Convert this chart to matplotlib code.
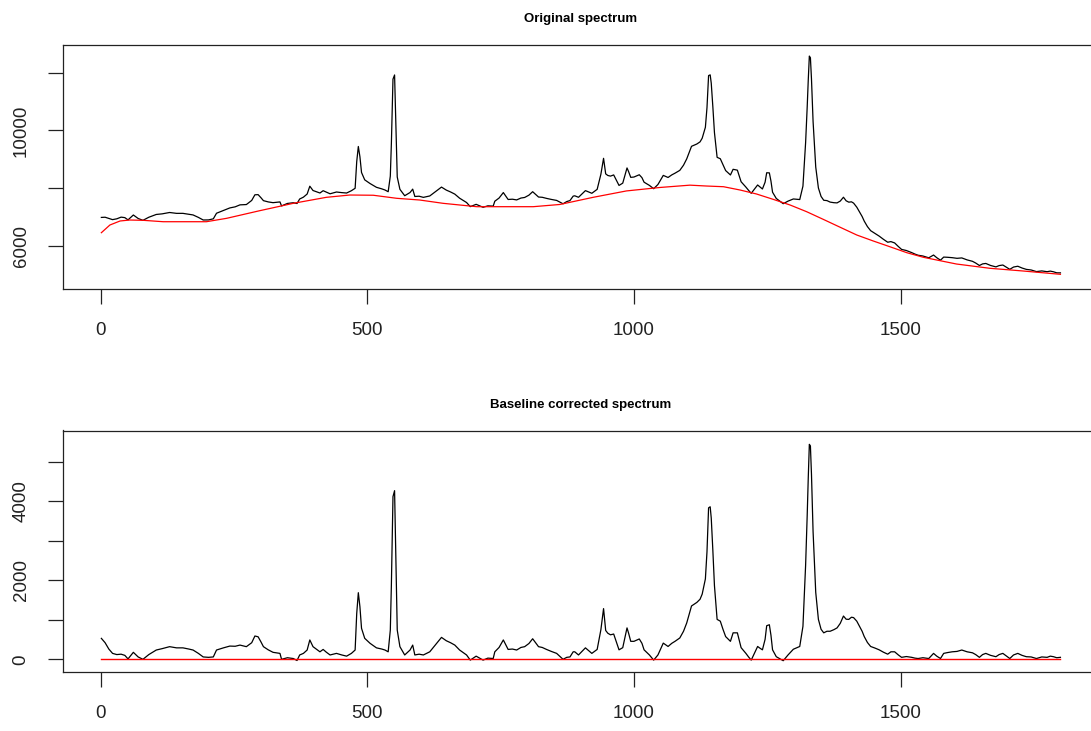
import numpy as np
import matplotlib
matplotlib.use("Agg")
import matplotlib.pyplot as plt

# ---- data ----
# baseline-corrected spectrum (index, intensity)
corr_x = [1, 8, 15, 22, 30, 38, 45, 51, 61, 70, 79, 90, 104, 115, 129, 142, 154, 165, 173, 183,
          192, 202, 211, 217, 230, 242, 252, 261, 273, 283, 289, 295, 300, 305, 314, 323, 336, 339,
          350, 361, 368, 373, 380, 387, 392, 398, 405, 411, 417, 423, 430, 442, 452, 461, 470, 477,
          480, 483, 486, 489, 495, 505, 517, 527, 533, 539, 543, 545, 548, 551, 553, 556, 561, 570,
          580, 585, 589, 597, 605, 617, 630, 639, 648, 656, 664, 673, 686, 693, 704, 717, 726, 736,
          739, 747, 755, 764, 772, 780, 788, 795, 803, 810, 821, 828, 836, 845, 855, 867, 874, 880,
          886, 889, 896, 909, 915, 921, 931, 938, 943, 947, 951, 956, 962, 968, 972, 979, 987, 990,
          994, 1000, 1005, 1010, 1015, 1019, 1029, 1037, 1045, 1055, 1064, 1071, 1077, 1086, 1093,
          1099, 1108, 1118, 1124, 1128, 1134, 1137, 1140, 1143, 1145, 1148, 1151, 1156, 1162, 1167,
          1172, 1181, 1186, 1194, 1201, 1210, 1215, 1220, 1226, 1232, 1236, 1241, 1246, 1249, 1254,
          1257, 1260, 1267, 1273, 1280, 1289, 1299, 1311, 1317, 1322, 1325, 1327, 1329, 1331, 1333,
          1336, 1341, 1346, 1351, 1356, 1362, 1368, 1375, 1381, 1387, 1393, 1398, 1403, 1408, 1412,
          1418, 1423, 1428, 1432, 1438, 1444, 1452, 1460, 1468, 1476, 1482, 1489, 1496, 1502, 1511,
          1521, 1527, 1533, 1542, 1553, 1562, 1568, 1575, 1581, 1588, 1597, 1606, 1615, 1625, 1635,
          1641, 1648, 1654, 1660, 1669, 1679, 1685, 1692, 1699, 1705, 1712, 1720, 1728, 1736, 1745,
          1755, 1765, 1775, 1781, 1787, 1793, 1800]
corr_y = [530, 420, 260, 150, 120, 130, 100, 10, 177, 60, 0, 120, 235, 270, 320, 290, 290, 260, 235, 150,
          60, 50, 60, 235, 290, 335, 330, 360, 320, 420, 590, 570, 450, 320, 240, 177, 150, 0,
          40, 20, -30, 110, 150, 235, 490, 320, 250, 190, 250, 180, 110, 150, 110, 80, 150, 235,
          1160, 1686, 1330, 785, 531, 405, 290, 260, 235, 190, 740, 1880, 4116, 4268, 2810, 740, 320, 110,
          235, 360, 110, 130, 110, 190, 405, 555, 470, 420, 360, 235, 110, -20, 80, -20, 30, 20,
          190, 300, 490, 250, 260, 235, 300, 320, 400, 520, 320, 300, 250, 200, 150, 0, 50, 60,
          190, 190, 110, 290, 220, 150, 250, 750, 1283, 730, 660, 620, 640, 405, 240, 295, 795, 660,
          455, 455, 485, 515, 405, 240, 110, -20, 110, 410, 325, 405, 455, 540, 710,
          920, 1350, 1440, 1520, 1650, 2034, 2718, 3833, 3860, 3574, 2758, 1866, 1010, 965, 760,
          575, 455, 670, 670, 295, 150, 60, -20, 150, 325, 285, 240, 505, 850, 875,
          610, 240, 66, 20, -35, 110, 255, 325, 835, 2378, 3650, 4604, 5440, 5400, 4685,
          3235, 1693, 1010, 760, 670, 710, 710, 750, 795, 910, 1095, 1015, 1010, 1065, 1055,
          965, 835, 710, 575, 425, 325, 285, 240, 180, 130, 190, 190, 110, 50, 70,
          50, 30, 20, 40, 20, 150, 80, 20, 150, 170, 190, 200, 235, 190, 165,
          120, 50, 120, 150, 100, 66, 120, 150, 80, 20, 110, 150, 100, 66, 60,
          20, 60, 50, 80, 66, 40, 50]

# fitted baseline (index, intensity)
base_x = [1, 17, 36, 54, 80, 117, 198, 236, 298, 361, 423, 467, 511, 555, 598, 642, 705, 811,
          861, 924, 986, 1049, 1105, 1136, 1168, 1199, 1230, 1261, 1293, 1324, 1355, 1387, 1418,
          1449, 1480, 1512, 1543, 1605, 1668, 1730, 1800]
base_y = [6451, 6718, 6857, 6891, 6880, 6832, 6832, 6950, 7214, 7470, 7678, 7758, 7750, 7644,
          7585, 7470, 7353, 7353, 7430, 7680, 7900, 8020, 8100, 8070, 8046, 7932, 7793, 7609,
          7411, 7179, 6915, 6638, 6371, 6163, 5965, 5757, 5598, 5365, 5216, 5123, 5008]

titles = ["Original spectrum", "Baseline corrected spectrum"]
x_ticks = [0, 500, 1000, 1500]
top_yticks = [6000, 8000, 10000, 12000]
top_ylabels = ["6000", "", "10000", ""]
bot_yticks = [0, 1000, 2000, 3000, 4000, 5000]
bot_ylabels = ["0", "", "2000", "", "4000", ""]

# ---- derived ----
cx = np.array(corr_x, dtype=float)
cy = np.array(corr_y, dtype=float)
orig_y = cy + np.interp(cx, base_x, base_y)

# ---- figure ----
W, H = 1091, 731
fig = plt.figure(figsize=(W / 100, H / 100), dpi=100)
plt.rcParams['font.family'] = ['Liberation Sans', 'DejaVu Sans']

def px_axes(left, top, right, bottom):
    return fig.add_axes([left / W, 1 - bottom / H, (right - left) / W, (bottom - top) / H])

ax1 = px_axes(63, 44.5, 1098.8, 288.5)
ax2 = px_axes(63, 430.5, 1098.8, 672)

xlim = (-70.96, 1871.96)

def style(ax, yt, yl, title):
    ax.set_xlim(*xlim)
    ax.set_xticks(x_ticks)
    ax.set_xticklabels([str(t) for t in x_ticks])
    ax.set_yticks(yt)
    ax.set_yticklabels(yl, rotation=90, va='center')
    for s in ax.spines.values():
        s.set_linewidth(0.9)
        s.set_color('#222222')
    ax.tick_params(axis='both', direction='out', length=11, width=0.9,
                   color='#222222', labelsize=13.5, labelcolor='#222222')
    ax.tick_params(axis='x', pad=13)
    ax.tick_params(axis='y', pad=13)
    ax.set_title(title, fontsize=9.5, fontweight='bold', pad=16)

ax1.plot(cx, orig_y, color='black', lw=0.9)
ax1.plot(base_x, base_y, color='red', lw=0.9)
ax1.set_ylim(4516, 12978)
style(ax1, top_yticks, top_ylabels, titles[0])

ax2.plot(cx, cy, color='black', lw=0.9)
ax2.plot([cx[0], cx[-1]], [0, 0], color='red', lw=1.0)
ax2.set_ylim(-321, 5790)
style(ax2, bot_yticks, bot_ylabels, titles[1])

fig.savefig("out.png", dpi=100)
